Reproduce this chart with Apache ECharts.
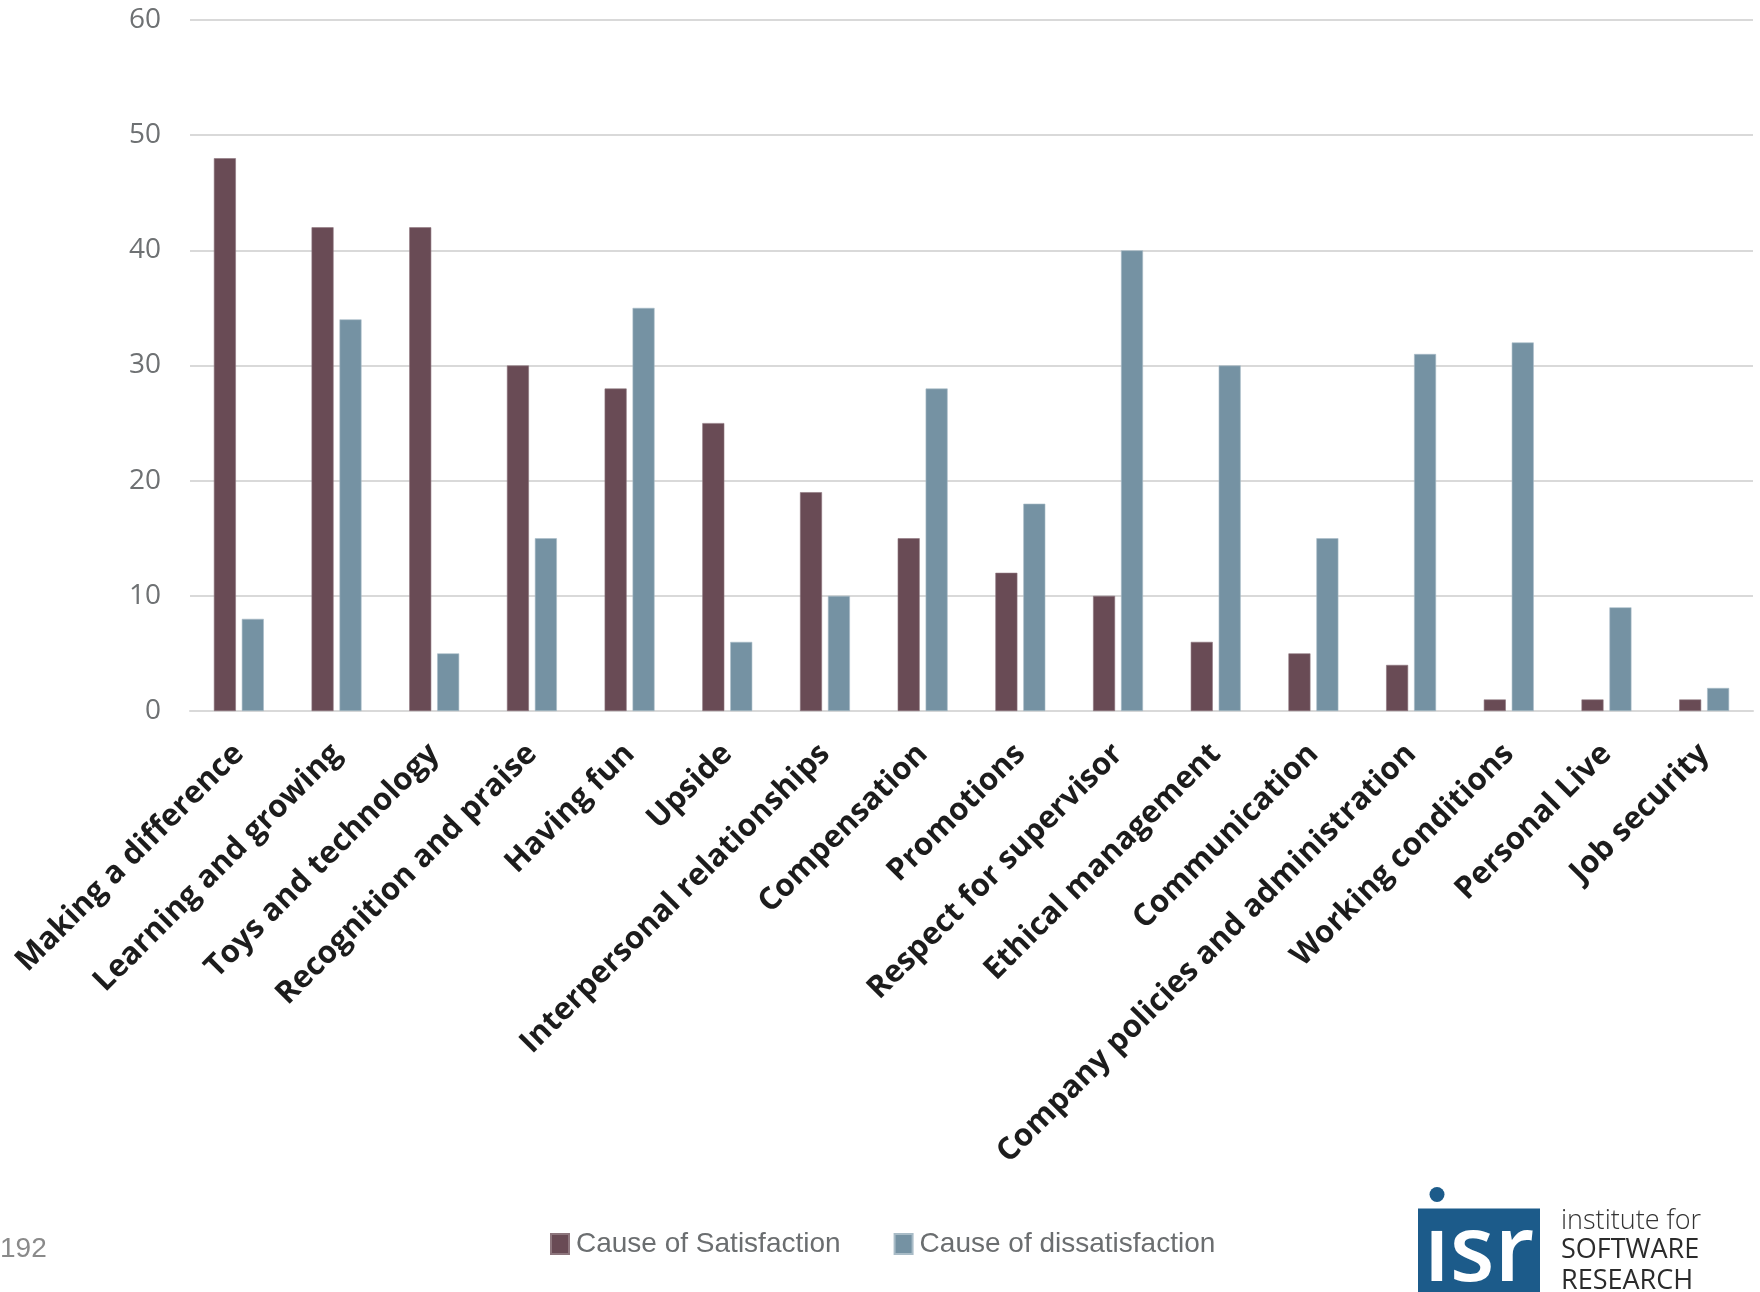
<!DOCTYPE html>
<html>
<head>
<meta charset="utf-8">
<title>Causes of satisfaction and dissatisfaction</title>
<script src="https://cdn.jsdelivr.net/npm/echarts@6/dist/echarts.min.js"></script>
<style>
  html, body { margin: 0; padding: 0; background: #ffffff; }
  #chart { width: 1760px; height: 1292px; }
</style>
</head>
<body>
<div id="chart"></div>
<script>
// Factors named by respondents
const categories = [
  'Making a difference', 'Learning and growing', 'Toys and technology',
  'Recognition and praise', 'Having fun', 'Upside',
  'Interpersonal relationships', 'Compensation', 'Promotions',
  'Respect for supervisor', 'Ethical management', 'Communication',
  'Company policies and administration', 'Working conditions',
  'Personal Live', 'Job security'
];

// Counts per factor
const satisfaction    = [48, 42, 42, 30, 28, 25, 19, 15, 12, 10, 6, 5, 4, 1, 1, 1];
const dissatisfaction = [8, 34, 5, 15, 35, 6, 10, 28, 18, 40, 30, 15, 31, 32, 9, 2];

const seriesNames = ['Cause of Satisfaction', 'Cause of dissatisfaction'];
const yTicks = [0, 10, 20, 30, 40, 50, 60];
const slideNumber = '192';

const footerFont = '"Liberation Sans", Arial, sans-serif';

const chart = echarts.init(document.getElementById('chart'), null, { renderer: 'canvas' });

const option = {
  backgroundColor: '#ffffff',
  animation: false,
  color: ['#694b55', '#7592a3'],
  grid: { left: 190, right: 7, top: 20, bottom: 581, containLabel: false },
  legend: {
    data: seriesNames,
    left: 550,
    top: 1229,
    padding: 0,
    itemWidth: 18,
    itemHeight: 20,
    itemGap: 53,
    icon: 'rect',
    textStyle: { fontFamily: footerFont, fontSize: 28, lineHeight: 30, color: '#6b6e70', padding: [0, 0, 0, 2] }
  },
  xAxis: {
    type: 'category',
    data: categories,
    axisTick: { show: false },
    axisLine: { show: true, lineStyle: { color: '#d9d9d9', width: 2 } },
    axisLabel: {
      rotate: 45,
      margin: 38,
      interval: 0,
      fontFamily: '"Open Sans", sans-serif',
      fontWeight: 'bold',
      fontSize: 31,
      color: '#1c1c1c'
    }
  },
  yAxis: {
    type: 'value',
    min: yTicks[0],
    max: yTicks[yTicks.length - 1],
    interval: yTicks[1] - yTicks[0],
    axisLine: { show: false },
    axisTick: { show: false },
    splitLine: { lineStyle: { color: '#d9d9d9', width: 2 } },
    axisLabel: {
      margin: 29,
      fontFamily: '"Open Sans", sans-serif',
      fontSize: 28,
      color: '#6e7173'
    }
  },
  series: [
    {
      name: seriesNames[0],
      type: 'bar',
      data: satisfaction,
      barWidth: 22,
      barGap: '27%',
      itemStyle: { borderColor: '#8d767d', borderWidth: 0.6 }
    },
    {
      name: seriesNames[1],
      type: 'bar',
      data: dissatisfaction,
      barWidth: 22,
      barGap: '27%',
      itemStyle: { borderColor: '#a9bcc7', borderWidth: 0.6 }
    }
  ],
  graphic: [
    {
      type: 'text',
      left: 0,
      top: 1235,
      style: { text: slideNumber, fontFamily: footerFont, fontSize: 28, fill: '#8a8a8a' }
    },
    // institute logo
    {
      type: 'group',
      left: 1418,
      top: 1187,
      children: [
        { type: 'rect', shape: { x: 0, y: 22, width: 122, height: 90 }, style: { fill: '#1c5b8a' } },
        { type: 'circle', shape: { cx: 19, cy: 8, r: 7.5 }, style: { fill: '#1c5b8a' } },
        {
          type: 'text',
          x: 6, y: 22,
          style: {
            text: '\u0131sr',
            fontFamily: '"Open Sans", sans-serif',
            fontSize: 92,
            fontWeight: 600,
            fill: '#ffffff',
            lineHeight: 92
          }
        },
        {
          type: 'text',
          x: 143, y: 21,
          style: { text: 'institute for', fontFamily: '"Open Sans", sans-serif', fontWeight: 300, fontSize: 27, fill: '#333333' }
        },
        {
          type: 'text',
          x: 143, y: 50,
          style: { text: 'SOFTWARE', fontFamily: '"Open Sans", sans-serif', fontWeight: 400, fontSize: 27, fill: '#2b2b2b' }
        },
        {
          type: 'text',
          x: 143, y: 81,
          style: { text: 'RESEARCH', fontFamily: '"Open Sans", sans-serif', fontWeight: 400, fontSize: 27, fill: '#2b2b2b' }
        }
      ]
    }
  ]
};

chart.setOption(option);
</script>
</body>
</html>
